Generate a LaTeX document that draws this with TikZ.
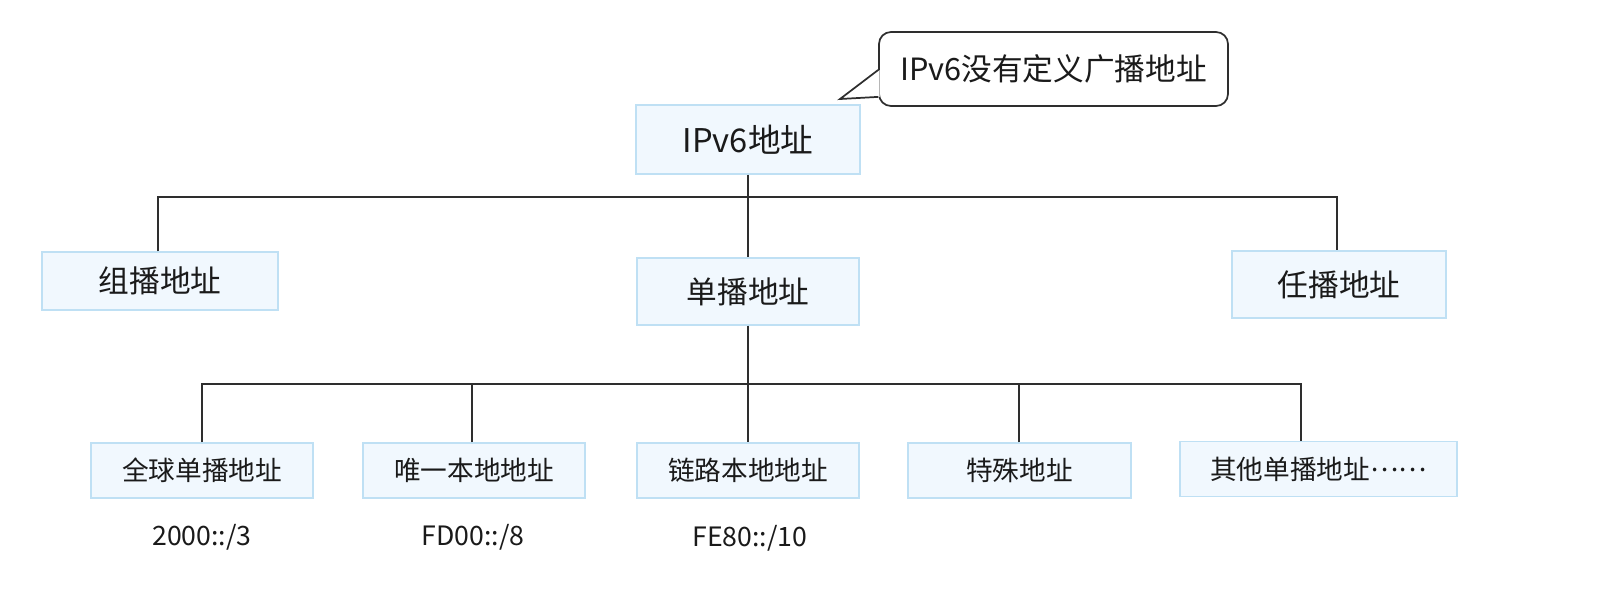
\documentclass[tikz,border=0pt]{standalone}
\usepackage{fontspec}
\setmainfont{Noto Sans CJK SC}
\usetikzlibrary{calc}
\newlength\px
\setlength\px{0.75pt}
\definecolor{boxfill}{HTML}{F1F8FE}
\definecolor{boxline}{HTML}{BFE0F4}
\definecolor{wire}{HTML}{2E2E2E}
\definecolor{ink}{HTML}{1A1A1A}
\tikzset{
  addrbox/.style={draw=boxline, fill=boxfill, line width=1.1pt, inner sep=0pt,
    text=ink, align=center},
  topbox/.style={addrbox, font=\fontsize{24.5pt}{28pt}\selectfont},
  midbox/.style={addrbox, font=\fontsize{23pt}{27pt}\selectfont},
  leafbox/.style={addrbox, minimum height=55\px, minimum width=222\px,
    font=\fontsize{20pt}{24pt}\selectfont},
  prefixlabel/.style={text=ink, inner sep=0pt, font=\fontsize{20pt}{24pt}\selectfont},
  wireline/.style={draw=wire, line width=1.2pt},
  notebubble/.style={draw=wire, line width=1.3pt, fill=white, rounded corners=12\px,
    inner sep=0pt, text=ink, font=\fontsize{23pt}{27pt}\selectfont}
}
\begin{document}
\begin{tikzpicture}[x=0.75pt, y=-0.75pt]
\useasboundingbox (0,0) rectangle (1624,612);

% root and second level
\node[topbox, minimum width=224\px, minimum height=69\px] (root) at (748,139.5) {IPv6地址};
\node[midbox, minimum width=236\px, minimum height=58\px] (multi) at (160,281) {组播地址};
\node[midbox, minimum width=222\px, minimum height=67\px] (uni) at (748,291.5) {单播地址};
\node[midbox, minimum width=214\px, minimum height=67\px] (any) at (1339,284.5) {任播地址};

% unicast kinds
\node[leafbox] (gua) at (202,470.5) {全球单播地址};
\node[leafbox] (ula) at (474,470.5) {唯一本地地址};
\node[leafbox] (lla) at (748,470.5) {链路本地地址};
\node[leafbox, minimum width=223\px] (spec) at (1019.5,470.5) {特殊地址};
\node[leafbox, minimum width=277\px] (other) at (1318.5,469) {其他单播地址\raisebox{0.3em}{……}};

% prefixes
\node[prefixlabel] (p1) at (202,537) {2000::/3};
\node[prefixlabel] (p2) at (473,537) {FD00::/8};
\node[prefixlabel] (p3) at (750,538) {FE80::/10};

% bus lines
\coordinate (busA) at (748,197);
\coordinate (busB) at (748,384);
\draw[wireline] (root.south) -- (uni.north);
\draw[wireline] ([xshift=-2\px]multi.north) |- (busA) -| ([xshift=-2\px]any.north);
\draw[wireline] (uni.south) -- (lla.north);
\coordinate (otherTop) at ($(other.north west)!0.437!(other.north east)$);
\draw[wireline] (gua.north) |- (busB) -| (otherTop);
\draw[wireline] ([xshift=-2\px]ula.north) -- ([xshift=-2\px]ula.north |- busB);
\draw[wireline] ([xshift=-0.5\px]spec.north) -- ([xshift=-0.5\px]spec.north |- busB);

% speech bubble
\node[notebubble, minimum width=349\px, minimum height=74\px] (note) at (1053.5,69) {IPv6没有定义广播地址};
\coordinate (tip) at (840,99);
\fill[white] ($(note.west)+(1.5,1)$) -- (tip) -- ($(note.south west)+(1.5,-10)$) -- cycle;
\draw[draw=wire, line width=1.3pt, line join=miter]
  ($(note.west)+(0,1)$) -- (tip) -- ($(note.south west)+(0.3,-10)$);
\end{tikzpicture}
\end{document}
